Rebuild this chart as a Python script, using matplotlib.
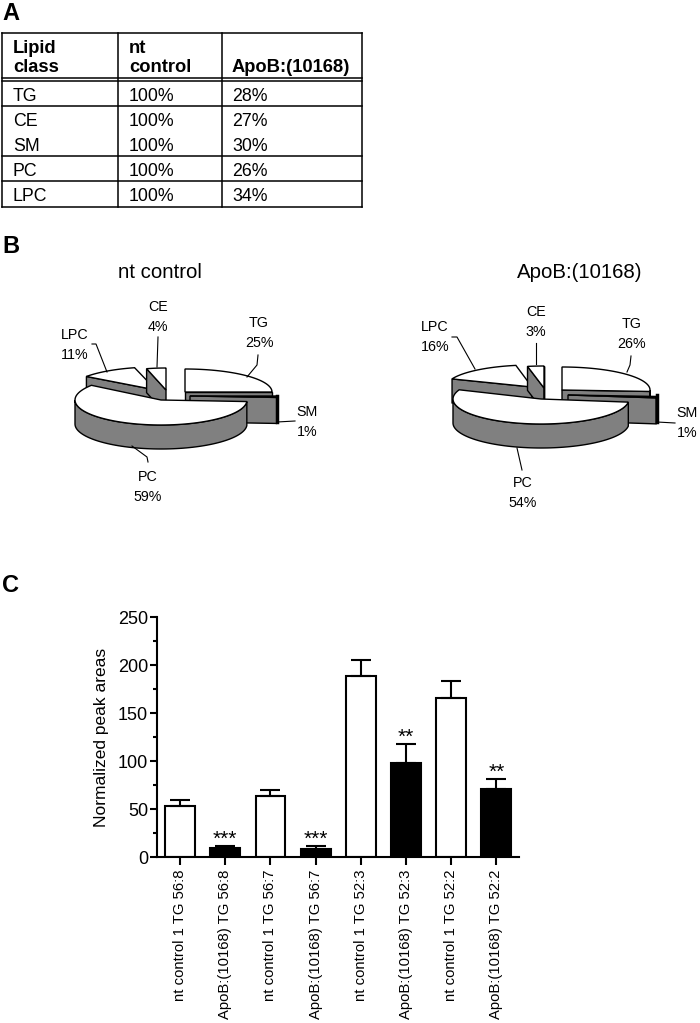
import numpy as np
import matplotlib
matplotlib.use("Agg")
import matplotlib.pyplot as plt
from matplotlib.patches import Polygon

plt.rcParams['font.family'] = ['Liberation Sans', 'DejaVu Sans']

# table
table_head = ["Lipid\nclass", "nt\ncontrol", "ApoB:(10168)"]
table_class = ["TG", "CE", "SM", "PC", "LPC"]
table_nt = ["100%", "100%", "100%", "100%", "100%"]
table_apob = ["28%", "27%", "30%", "26%", "34%"]

# pies, order TG SM PC LPC CE
pie_names = ["TG", "SM", "PC", "LPC", "CE"]
pie_nt = [25, 1, 59, 11, 4]
pie_apob = [26, 1, 54, 16, 3]

# bars
bar_labels = ["nt control 1 TG 56:8", "ApoB:(10168) TG 56:8", "nt control 1 TG 56:7", "ApoB:(10168) TG 56:7",
              "nt control 1 TG 52:3", "ApoB:(10168) TG 52:3", "nt control 1 TG 52:2", "ApoB:(10168) TG 52:2"]
bar_vals = [53, 9, 64, 8, 189, 98, 166, 71]
bar_err = [6, 2, 6, 3, 16, 20, 17, 10]
bar_stars = ["", "***", "", "***", "", "**", "", "**"]

fig = plt.figure(figsize=(7, 10.23), dpi=100)
px = fig.add_axes([0, 0, 1, 1])
px.set_xlim(0, 700)
px.set_ylim(1023, 0)
px.axis("off")

for s, x, y in [("A", 2, 20), ("B", 2, 253), ("C", 2, 592)]:
    px.text(x, y, s, fontsize=17, fontweight="bold", va="baseline", ha="left")

# panel A
for y in [33, 78, 81, 106, 156, 181, 207]:
    px.plot([2, 362], [y, y], color="k", lw=1.1)
for x in [2, 118, 222, 362]:
    px.plot([x, x], [33, 207], color="k", lw=1.1)
for x, s in zip([13, 129, 232], table_head):
    px.text(x, 72, s, fontsize=13.2, fontweight="bold", va="baseline", ha="left", linespacing=1.15)
rows_y = [101, 126, 151, 176, 201]
for y, a, b, c in zip(rows_y, table_class, table_nt, table_apob):
    px.text(13, y, a, fontsize=12.8, va="baseline")
    px.text(129, y, b, fontsize=12.8, va="baseline")
    px.text(232, y, c, fontsize=12.8, va="baseline")


def arc(cx, cy, rx, ry, a0, a1):
    t = np.radians(np.linspace(a0, a1, 80))
    return np.column_stack([cx + rx * np.cos(t), cy - ry * np.sin(t)])


def wedge3d(cx, cy, rx, ry, h, a0, a1):
    # clockwise from a0 to a1, only faces turned to the viewer get drawn
    gray = dict(fc="#808080", ec="k", lw=1.0)
    if np.cos(np.radians(a0)) < 0:
        p = arc(cx, cy, rx, ry, a0, a0)[0]
        px.add_patch(Polygon([[cx, cy], p, p + [0, h], [cx, cy + h]], **gray))
    if np.cos(np.radians(a1)) > 0:
        p = arc(cx, cy, rx, ry, a1, a1)[0]
        px.add_patch(Polygon([[cx, cy], p, p + [0, h], [cx, cy + h]], **gray))
    lo = max(a1, -180)
    hi = min(a0, 0)
    if lo < hi:
        pts = arc(cx, cy, rx, ry, hi, lo)
        px.add_patch(Polygon(np.vstack([pts, (pts + [0, h])[::-1]]), **gray))
    top = np.vstack([[cx, cy], arc(cx, cy, rx, ry, a0, a1)])
    px.add_patch(Polygon(top, fc="white", ec="k", lw=1.0))


def pie3d(vals, centers, h=24):
    start = 90
    angles = []
    for v in vals:
        angles.append((start, start - v * 3.6))
        start -= v * 3.6
    # back to front
    for i in [0, 3, 4, 1, 2]:
        cx, cy, rx, ry = centers[i]
        wedge3d(cx, cy, rx, ry, h if i != 1 else 26, angles[i][0], angles[i][1])


pie3d(pie_nt, [(185, 392, 87, 23), (190, 396, 87, 23), (161, 400, 86, 25), (156, 390, 86, 23), (166, 390, 78, 22)])
pie3d(pie_apob, [(562, 390, 88, 23), (568, 395, 89, 23), (541, 399, 88, 25), (532, 387, 86, 22), (544, 388, 88, 22)])
px.plot([277, 277], [396, 422], color="k", lw=2.5)
px.plot([657, 657], [395, 422], color="k", lw=2.5)

px.text(160, 273, "nt control", fontsize=14.7, ha="center", va="center")
px.text(580, 273, "ApoB:(10168)", fontsize=14.7, ha="center", va="center")

leaders = [
    [(92, 344), (96, 344), (107, 372)], [(158, 337), (157, 367)], [(258, 355), (257, 365), (247, 377)],
    [(277, 422), (295, 421)], [(132, 446), (147, 457), (148, 462)],
    [(452, 337), (457, 337), (475, 369)], [(536, 343), (536, 364)], [(631, 356), (630, 365), (627, 372)],
    [(657, 422), (675, 423)], [(517, 448), (522, 470)],
]
for l in leaders:
    l = np.array(l)
    px.plot(l[:, 0], l[:, 1], color="k", lw=0.8)

pos_nt = [(259, 333), (307, 422), (148, 487), (75, 345), (158, 317)]
pos_apob = [(632, 334), (687, 423), (523, 493), (435, 337), (536, 322)]
for vals, pos in [(pie_nt, pos_nt), (pie_apob, pos_apob)]:
    for n, v, p in zip(pie_names, vals, pos):
        px.text(p[0], p[1], "%s\n%d%%" % (n, v), fontsize=10.3, ha="center", va="center", linespacing=1.5)

# panel C
ax = fig.add_axes([157 / 700, 1 - 857 / 1023, (519 - 157) / 700, 240 / 1023])
x = np.arange(len(bar_vals))
colors = ["white" if i % 2 == 0 else "black" for i in x]
ax.bar(x, bar_vals, width=0.66, color=colors, edgecolor="k", linewidth=1.5,
       yerr=[np.zeros(len(bar_err)), bar_err],
       error_kw=dict(ecolor="k", elinewidth=1.5, capsize=7, capthick=1.5))
for i, s in enumerate(bar_stars):
    if s:
        ax.text(i, bar_vals[i] + bar_err[i] - 3, s, fontsize=15, ha="center", va="bottom")
ax.set_xlim(-0.51, 7.5)
ax.set_ylim(0, 250)
ax.set_yticks([0, 50, 100, 150, 200, 250])
ax.set_yticks(np.arange(25, 250, 50), minor=True)
ax.set_xticks(x)
ax.set_xticklabels(bar_labels, rotation=90, fontsize=10.7)
ax.tick_params(axis="y", which="major", labelsize=13, width=1.5, length=5, pad=1.5)
ax.tick_params(axis="y", which="minor", width=1.5, length=3)
ax.tick_params(axis="x", width=1.5, length=6, pad=3)
ax.set_ylabel("Normalized peak areas", fontsize=12.5, labelpad=6)
ax.spines["top"].set_visible(False)
ax.spines["right"].set_visible(False)
ax.spines["left"].set_linewidth(1.5)
ax.spines["bottom"].set_linewidth(1.5)

plt.savefig("out.png", dpi=100)
